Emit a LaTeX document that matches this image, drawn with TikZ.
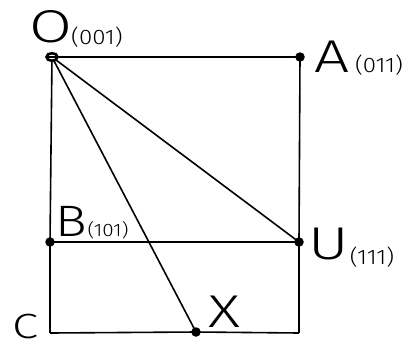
\documentclass[tikz,border=0pt]{standalone}
\usepackage{fontspec}
\setmainfont{Fira Sans Light}
\newfontfamily\widefont{Fira Sans Light}[FakeStretch=1.35]
\newfontfamily\midfont{Fira Sans Light}[FakeStretch=1.2]
\newfontfamily\numfont{Fira Sans Light}[FakeStretch=1.15]
\usetikzlibrary{calc}
\begin{document}
\begin{tikzpicture}[x=1pt,y=-1pt,
  edge/.style={line width=1.6pt},
  dot/.style={circle,fill=black,inner sep=0pt,minimum size=9.5pt},
  big/.style={inner sep=0pt,font=\widefont\fontsize{46}{46}\selectfont},
  small/.style={inner sep=0pt,font=\numfont\fontsize{21}{21}\selectfont}]
\useasboundingbox (0,0) rectangle (407,349);
\coordinate (O) at (52,57);
\coordinate (A) at (300,57);
\coordinate (B) at (50,242);
\coordinate (U) at (299,242);
\coordinate (C) at (50,333);
\coordinate (X) at (196,332);
\coordinate (D) at (299,333);
\draw[edge] (O) -- (A);
\draw[edge] (A) -- (U);
\draw[edge] (U) -- (D);
\draw[edge] (O) -- (B);
\draw[edge] (B) -- (C);
\draw[edge] (C) -- (X);
\draw[edge] (X) -- (D);
\draw[edge] (B) -- (U);
\draw[edge] (O) -- (U);
\draw[edge] (O) -- (X);
\node[dot] at (A) {};
\node[dot] at (B) {};
\node[dot] at (U) {};
\node[dot] at (X) {};
\draw[line width=2.6pt,fill=white] (O) ellipse[x radius=5.5pt,y radius=3.8pt];
\draw[line width=1.4pt] ($(O)+(-5.5,0)$) -- ($(O)+(5.5,0)$);
\node[big] (lO) at (51,27) {O};
\node[small] (lO2) at (97,37) {(001)};
\node[big] (lA) at (332,57) {A};
\node[small] (lA2) at (379,65) {(011)};
\node[big,font=\midfont\fontsize{44}{44}\selectfont] (lB) at (71,221) {B};
\node[small,font=\numfont\fontsize{18}{18}\selectfont] (lB2) at (108,230) {(101)};
\node[big] (lU) at (329,244) {U};
\node[small] (lU2) at (372,257) {(111)};
\node[big,font=\widefont\fontsize{35}{35}\selectfont] (lC) at (25,327) {C};
\node[big] (lX) at (224,312) {X};
\end{tikzpicture}
\end{document}
